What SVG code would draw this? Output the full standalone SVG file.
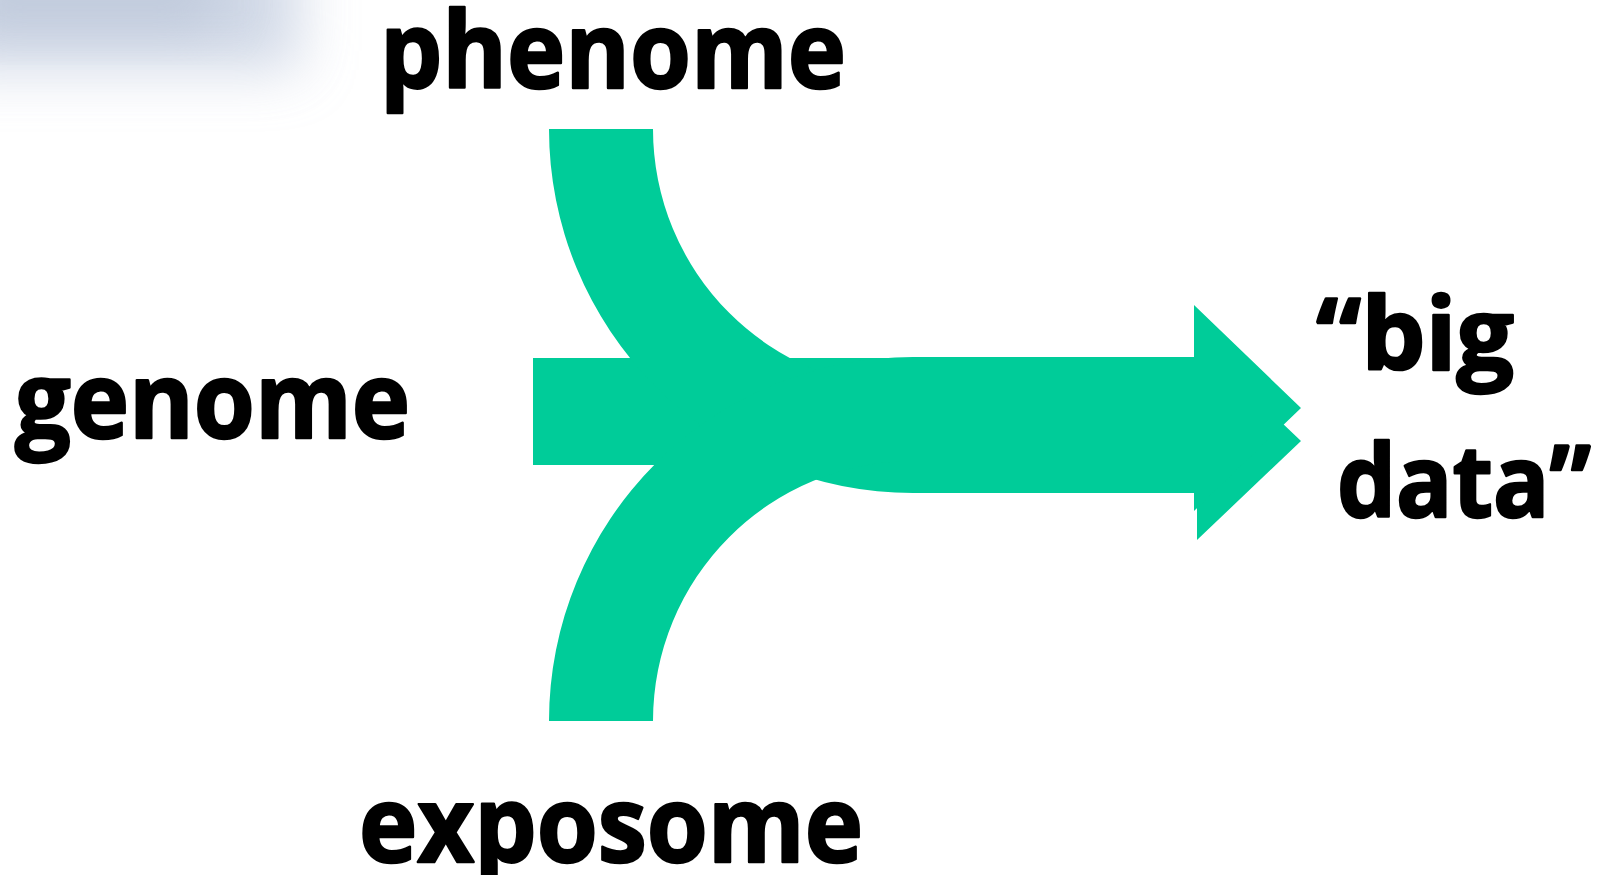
<svg xmlns="http://www.w3.org/2000/svg" width="1611" height="875" viewBox="0 0 1611 875">
  <style>
    .lbl { font-family: "Open Sans", "DejaVu Sans", sans-serif; font-weight: 700; font-size: 105px; fill: #000000; stroke: #000000; stroke-width: 2.4px; stroke-linejoin: round; }
    .small { font-size: 100px; }
    .flow { fill: #00CC99; stroke: none; }
  </style>
  <defs>
    <filter id="blur" x="-50%" y="-50%" width="200%" height="200%">
      <feGaussianBlur stdDeviation="28"/>
    </filter>
  </defs>
  <rect x="0" y="0" width="1611" height="875" fill="#ffffff"/>
  <g id="backdrop">
    <rect x="-60" y="-60" width="360" height="130" fill="#c3cde0" opacity="0.75" filter="url(#blur)"/>
    <rect x="-40" y="-40" width="260" height="70" fill="#a9b6cc" opacity="0.45" filter="url(#blur)"/>
  </g>
  <g id="connectors">
    <rect id="genome-flow" class="flow" x="533" y="358" width="660" height="107"/>
    <path id="phenome-flow" class="flow" d="M549,129 A364,364 0 0 0 913,493 L1197,493 L1197,540 L1301,441 L1197,342 L1197,389 L913,389 A260,260 0 0 1 653,129 Z"/>
    <path id="exposome-flow" class="flow" d="M549,721 A364,364 0 0 1 913,357 L1194,357 L1194,305 L1301,408 L1194,511 L1194,461 L913,461 A260,260 0 0 0 653,721 Z"/>
  </g>
  <g id="node-phenome">
    <text class="lbl" x="380" y="88" textLength="466" lengthAdjust="spacingAndGlyphs">phenome</text>
  </g>
  <g id="node-genome">
    <text class="lbl" x="15" y="438" textLength="395" lengthAdjust="spacingAndGlyphs">genome</text>
  </g>
  <g id="node-exposome">
    <text class="lbl" x="359" y="862" textLength="504" lengthAdjust="spacingAndGlyphs">exposome</text>
  </g>
  <g id="node-bigdata">
    <text class="lbl small" x="1316" y="370" textLength="198" lengthAdjust="spacingAndGlyphs">“big</text>
    <text class="lbl small" x="1337" y="517" textLength="254" lengthAdjust="spacingAndGlyphs">data”</text>
  </g>
</svg>
